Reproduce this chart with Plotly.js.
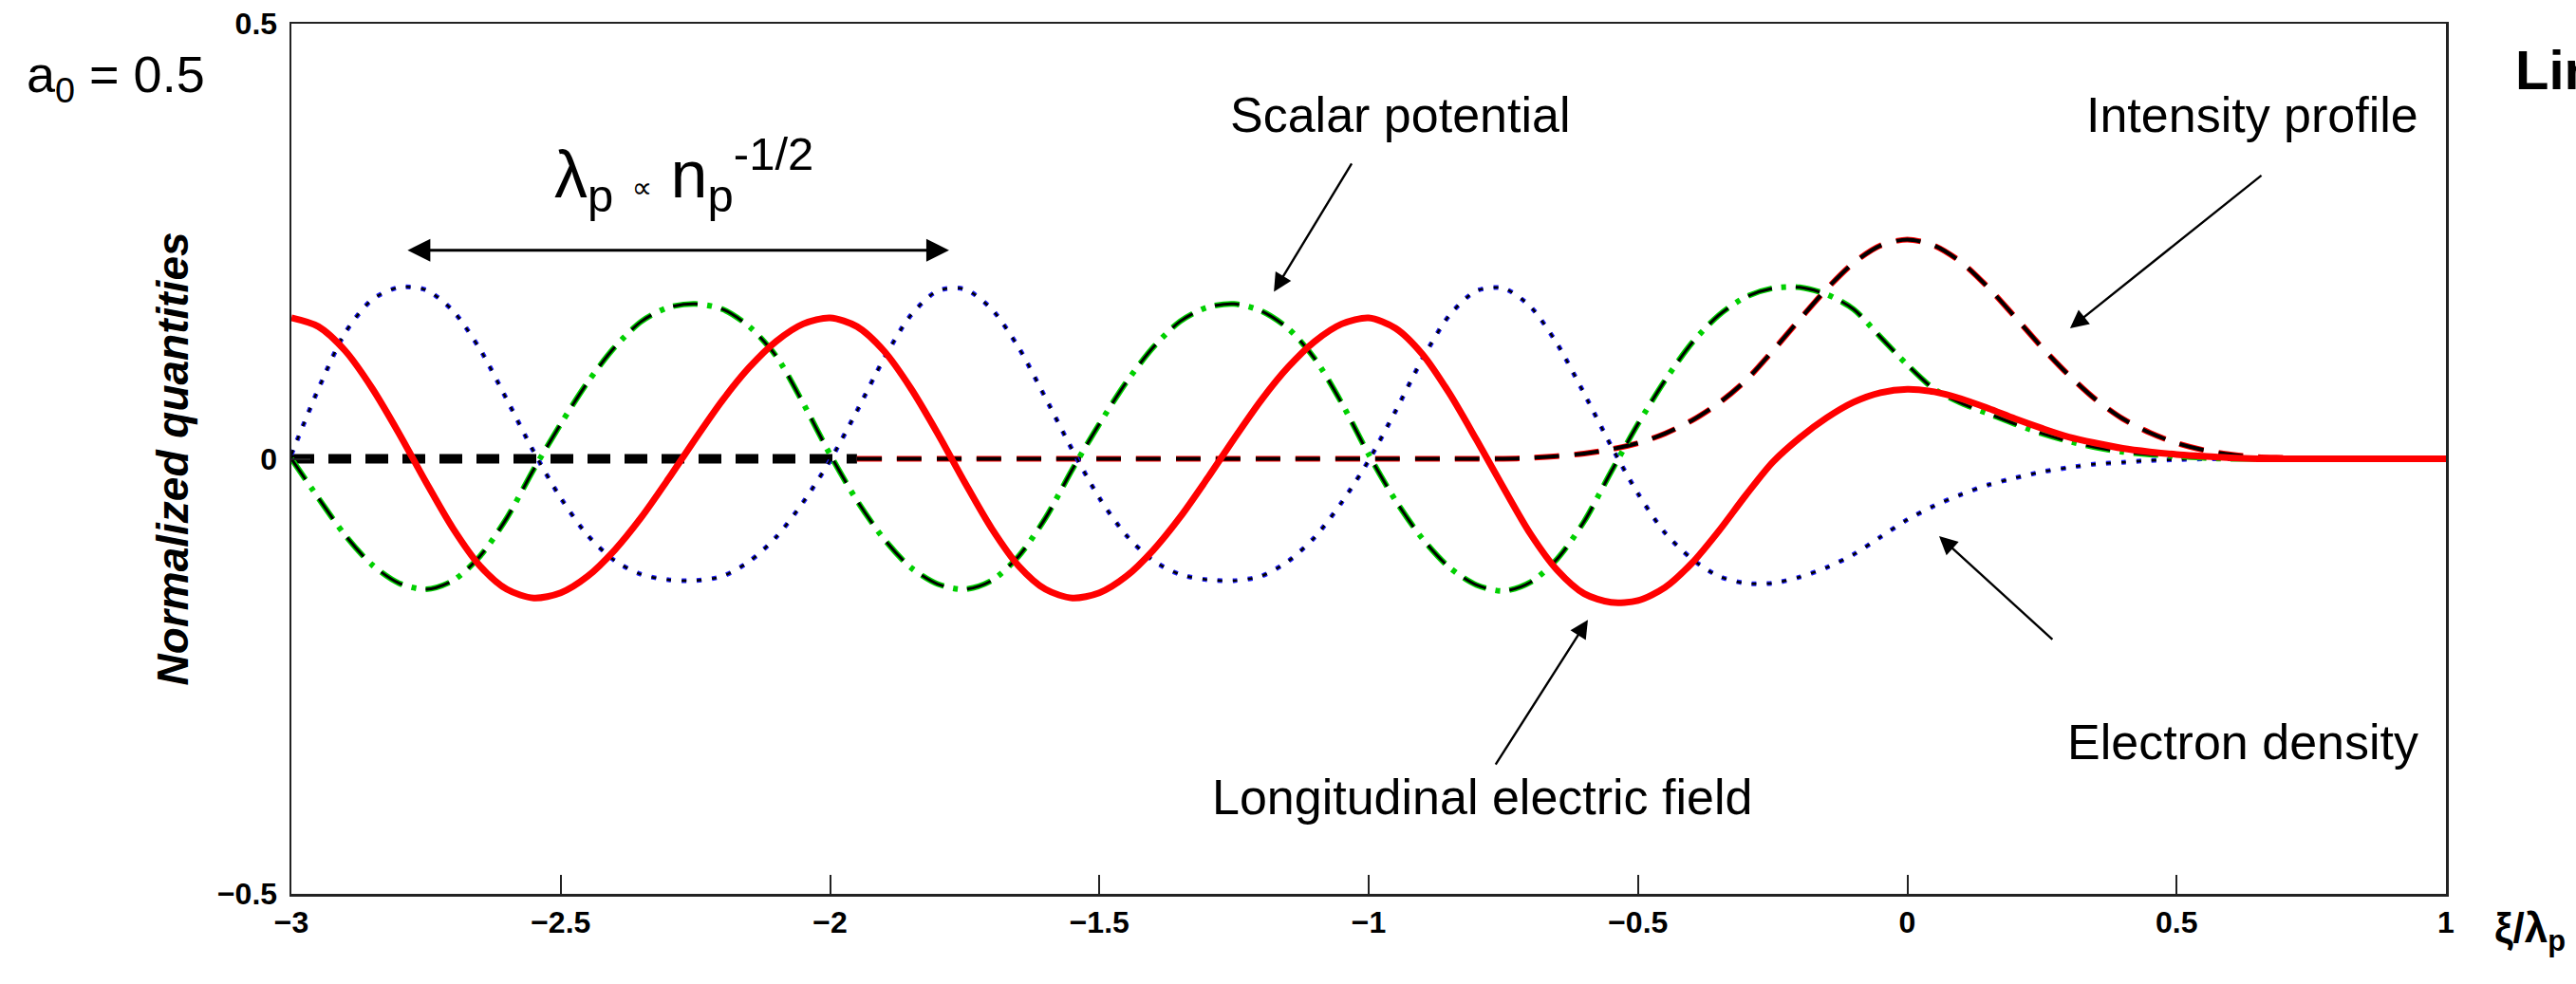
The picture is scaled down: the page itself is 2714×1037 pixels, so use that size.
<!DOCTYPE html>
<html>
<head>
<meta charset="utf-8">
<script src="https://cdn.plot.ly/plotly-3.0.1.min.js"></script>
<style>html,body{margin:0;padding:0;background:#fff;}#chart{width:2714px;height:1037px;}</style>
</head>
<body>
<div id="chart"></div>
<script>
// ---- data (xi / lambda_p grid) ----
const xi = [-3.00,-2.95,-2.90,-2.85,-2.80,-2.75,-2.70,-2.65,-2.60,-2.55,
            -2.50,-2.45,-2.40,-2.35,-2.30,-2.25,-2.20,-2.15,-2.10,-2.05,
            -2.00,-1.95,-1.90,-1.85,-1.80,-1.75,-1.70,-1.65,-1.60,-1.55,
            -1.50,-1.45,-1.40,-1.35,-1.30,-1.25,-1.20,-1.15,-1.10,-1.05,
            -1.00,-0.95,-0.90,-0.85,-0.80,-0.75,-0.70,-0.65,-0.60,-0.55,
            -0.50,-0.45,-0.40,-0.35,-0.30,-0.25,-0.20,-0.15,-0.10,-0.05,
             0.00, 0.05, 0.10, 0.15, 0.20, 0.25, 0.30, 0.35, 0.40, 0.45,
             0.50, 0.55, 0.60, 0.65, 0.70, 0.75, 0.80, 0.85, 0.90, 0.95, 1.00];

// Longitudinal electric field (red solid)
const efield = [0.162,0.152,0.124,0.081,0.029,-0.027,-0.080,-0.123,-0.150,-0.160,
                -0.154,-0.135,-0.105,-0.067,-0.023,0.023,0.067,0.105,0.135,0.155,
                0.162,0.152,0.124,0.081,0.029,-0.027,-0.080,-0.123,-0.150,-0.160,
                -0.154,-0.135,-0.105,-0.067,-0.023,0.023,0.067,0.105,0.135,0.155,
                0.162,0.150,0.120,0.075,0.022,-0.033,-0.086,-0.128,-0.155,-0.165,
                -0.163,-0.148,-0.120,-0.083,-0.042,-0.004,0.024,0.047,0.065,0.076,
                0.080,0.077,0.069,0.058,0.046,0.035,0.025,0.018,0.012,0.008,
                0.005,0.003,0.001,0,0,0,0,0,0,0,0];

// Scalar potential (green dash-dot)
const potential = [0.000,-0.045,-0.088,-0.122,-0.143,-0.150,-0.140,-0.112,-0.068,-0.012,
                   0.040,0.088,0.128,0.158,0.174,0.178,0.172,0.152,0.118,0.064,
                   0.005,-0.048,-0.092,-0.125,-0.144,-0.150,-0.140,-0.112,-0.068,-0.012,
                   0.040,0.088,0.128,0.158,0.174,0.178,0.170,0.150,0.115,0.064,
                   0.005,-0.048,-0.092,-0.125,-0.145,-0.152,-0.142,-0.115,-0.072,-0.015,
                   0.040,0.090,0.133,0.165,0.186,0.196,0.197,0.189,0.172,0.140,
                   0.108,0.080,0.064,0.052,0.040,0.029,0.020,0.013,0.008,0.005,
                   0.003,0.001,0,0,0,0,0,0,0,0,0];

// Electron density (blue dotted)
const density = [0.005,0.080,0.145,0.183,0.197,0.194,0.170,0.126,0.068,0.008,
                 -0.045,-0.088,-0.117,-0.133,-0.139,-0.140,-0.135,-0.118,-0.090,-0.050,
                 -0.002,0.055,0.115,0.165,0.193,0.195,0.172,0.128,0.070,0.010,
                 -0.045,-0.088,-0.117,-0.133,-0.139,-0.140,-0.135,-0.118,-0.090,-0.050,
                 -0.002,0.055,0.115,0.165,0.193,0.196,0.175,0.132,0.075,0.015,
                 -0.040,-0.085,-0.115,-0.135,-0.143,-0.143,-0.136,-0.125,-0.110,-0.090,
                 -0.070,-0.054,-0.041,-0.030,-0.022,-0.015,-0.010,-0.006,-0.004,-0.002,
                 -0.001,0,0,0,0,0,0,0,0,0,0];

// Laser intensity profile (dashed)
const intensity = [0,0,0,0,0,0,0,0,0,0,
                   0,0,0,0,0,0,0,0,0,0,
                   0,0,0,0,0,0,0,0,0,0,
                   0,0,0,0,0,0,0,0,0,0,
                   0,0,0,0,0,0,0.001,0.003,0.006,0.011,
                   0.018,0.029,0.044,0.064,0.090,0.124,0.160,0.195,0.225,0.245,
                   0.252,0.245,0.226,0.197,0.163,0.128,0.096,0.068,0.046,0.030,
                   0.018,0.010,0.005,0.002,0.001,0,0,0,0,0,0];

const xTickVals = [-3,-2.5,-2,-1.5,-1,-0.5,0,0.5,1];
const xTickText = ['\u22123','\u22122.5','\u22122','\u22121.5','\u22121','\u22120.5','0','0.5','1'];
const yTickVals = [-0.5,0,0.5];
const yTickText = ['\u22120.5','0','0.5'];

// split of the dashed intensity curve: heavy black part on the far left
const splitIndex = 21;

// ---- traces ----
const sm = 0.8;
const traces = [
  {x: xi.slice(0, splitIndex+1), y: intensity.slice(0, splitIndex+1), mode:'lines',
   line:{color:'#000', width:10, dash:'24px,15px'}},
  {x: xi.slice(splitIndex), y: intensity.slice(splitIndex), mode:'lines',
   line:{color:'#ff0000', width:6, dash:'26px,16px', shape:'spline', smoothing:sm}},
  {x: xi.slice(splitIndex), y: intensity.slice(splitIndex), mode:'lines',
   line:{color:'#000', width:4, dash:'26px,16px', shape:'spline', smoothing:sm}},
  {x: xi, y: density, mode:'lines',
   line:{color:'#2020ff', width:5, dash:'5px,11px', shape:'spline', smoothing:sm}},
  {x: xi, y: density, mode:'lines',
   line:{color:'#000', width:2.5, dash:'5px,11px', shape:'spline', smoothing:sm}},
  {x: xi, y: potential, mode:'lines',
   line:{color:'#00d000', width:6, dash:'26px,10px,5px,10px', shape:'spline', smoothing:sm}},
  {x: xi, y: potential, mode:'lines',
   line:{color:'#000', width:3, dash:'26px,25px', shape:'spline', smoothing:sm}},
  {x: xi, y: efield, mode:'lines',
   line:{color:'#ff0000', width:7, shape:'spline', smoothing:sm}}
];
traces.forEach(t => { t.hoverinfo = 'skip'; t.showlegend = false; });

const FONT = 'Liberation Sans, Arial, DejaVu Sans, sans-serif';
const txt = (text, x, y, size, extra) => Object.assign({
  text, x, y, xref:'x', yref:'y', showarrow:false, xanchor:'center', yanchor:'middle',
  font:{family:FONT, size:size, color:'#000'}
}, extra || {});
const arrow = (x, y, ax, ay, extra) => Object.assign({
  text:'', x, y, ax, ay, xref:'x', yref:'y', axref:'x', ayref:'y',
  showarrow:true, arrowhead:2, arrowsize:1.6, arrowwidth:2.4, arrowcolor:'#000',
  standoff:0, startstandoff:0
}, extra || {});

const annotations = [
  txt('Scalar potential', -0.942, 0.395, 52),
  txt('Intensity profile', 0.641, 0.395, 52),
  txt('Electron density', 0.623, -0.326, 52),
  txt('Longitudinal electric field', -0.789, -0.389, 52),
  txt('\u03bb<sub>p</sub> <span style="font-size:30px">\u221d</span> n<sub>p</sub><sup>-1/2</sup>', -2.272, 0.327, 70),
  arrow(-1.176, 0.192, -1.030, 0.341),
  arrow(0.302, 0.150, 0.660, 0.327),
  arrow(0.059, -0.089, 0.272, -0.209),
  arrow(-0.593, -0.185, -0.766, -0.353),
  arrow(-1.779, 0.2397, -2.787, 0.2397, {arrowside:'end+start', arrowwidth:3}),
  {text:'a<sub>0</sub> = 0.5', xref:'paper', yref:'paper', x:-0.0815, y:0.938,
   xanchor:'center', yanchor:'middle', showarrow:false,
   font:{family:FONT, size:54, color:'#000'}},
  {text:'<b>Linear regime</b>', xref:'paper', yref:'paper', x:1.0313, y:0.947,
   xanchor:'left', yanchor:'middle', showarrow:false,
   font:{family:FONT, size:58, color:'#000'}},
  {text:'<b>\u03be/\u03bb<sub>p</sub></b>', xref:'paper', yref:'paper', x:1.0216, y:-0.043,
   xanchor:'left', yanchor:'middle', showarrow:false,
   font:{family:FONT, size:44, color:'#000'}},
  {text:'<b><i>Normalized quantities</i></b>', xref:'paper', yref:'paper', x:-0.0551, y:0.5,
   xanchor:'center', yanchor:'middle', textangle:-90, showarrow:false,
   font:{family:FONT, size:46, color:'#000'}}
];

const axisCommon = {
  showgrid:false, zeroline:false, showline:true, mirror:true,
  linecolor:'#222', linewidth:2.5,
  ticks:'inside', ticklen:20, tickwidth:2, tickcolor:'#222',
  tickfont:{family:FONT, size:32, color:'#000', weight:'bold'},
  fixedrange:true
};

const layout = {
  width:2714, height:1037,
  margin:{l:307, r:137, t:25, b:95, pad:0},
  paper_bgcolor:'#fff', plot_bgcolor:'#fff',
  showlegend:false,
  font:{family:FONT, color:'#000'},
  xaxis:Object.assign({}, axisCommon, {range:[-3,1], tickmode:'array', tickvals:xTickVals, ticktext:xTickText, ticklabelstandoff:0}),
  yaxis:Object.assign({}, axisCommon, {range:[-0.5,0.5], tickmode:'array', tickvals:yTickVals, ticktext:yTickText, ticklabelstandoff:6}),
  annotations
};

Plotly.newPlot('chart', traces, layout, {staticPlot:true, displayModeBar:false});
</script>
</body>
</html>
